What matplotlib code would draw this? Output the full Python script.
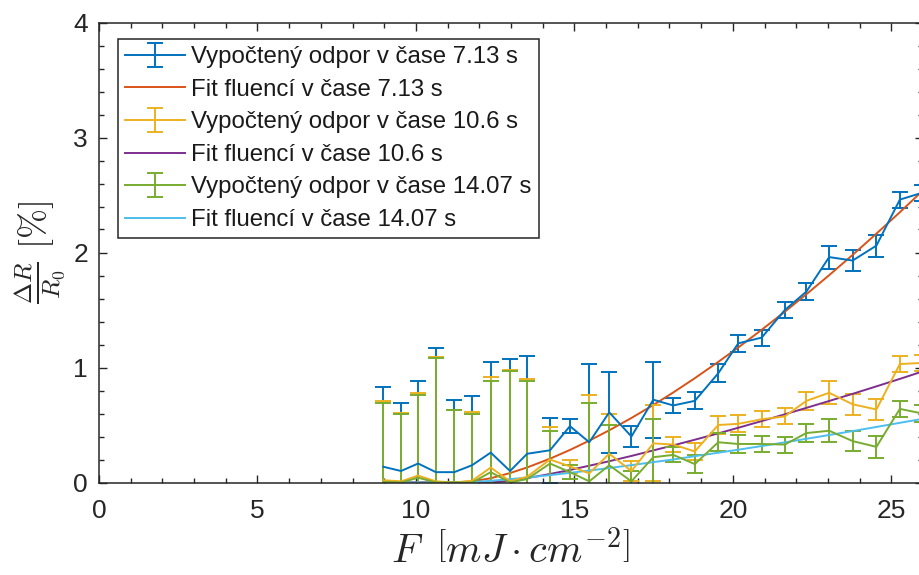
import matplotlib
matplotlib.use("Agg")
import matplotlib.pyplot as plt
from matplotlib.ticker import MultipleLocator

# Fluence of each measurement [mJ/cm^2]
fluence = [8.97, 9.53, 10.07, 10.63, 11.21, 11.77, 12.36, 12.97, 13.51, 14.23,
           14.86, 15.47, 16.10, 16.80, 17.49, 18.12, 18.80, 19.54, 20.17, 20.91,
           21.64, 22.32, 23.04, 23.78, 24.53, 25.27, 25.98]

# Computed relative resistance change dR/R0 [%] at the three times
res_713 = [0.137, 0.10, 0.165, 0.09, 0.09, 0.15, 0.26, 0.10, 0.25, 0.28,
           0.49, 0.35, 0.61, 0.40, 0.72, 0.67, 0.71, 0.95, 1.21, 1.26,
           1.50, 1.66, 1.96, 1.93, 2.06, 2.46, 2.52]
res_1060 = [0.02, 0.01, 0.06, 0.01, 0.0, 0.015, 0.13, 0.01, 0.05, 0.20,
            0.14, 0.08, 0.25, 0.10, 0.34, 0.33, 0.27, 0.50, 0.51, 0.55,
            0.575, 0.71, 0.78, 0.68, 0.635, 1.03, 1.04]
res_1407 = [0.005, 0.0, 0.042, 0.0, 0.0, 0.0, 0.09, 0.0, 0.03, 0.165,
            0.09, 0.01, 0.15, 0.01, 0.22, 0.24, 0.16, 0.35, 0.335, 0.335,
            0.33, 0.43, 0.45, 0.36, 0.31, 0.64, 0.60]

# Uncertainty of each point (same for all three times)
err = [0.69, 0.595, 0.715, 1.08, 0.63, 0.60, 0.79, 0.97, 0.85, 0.285,
       0.06, 0.68, 0.35, 0.09, 0.33, 0.065, 0.075, 0.077, 0.075, 0.07,
       0.07, 0.077, 0.10, 0.09, 0.095, 0.07, 0.07]

# Fluence fits evaluated at the measured fluences
fit_713 = [0, 0, 0, 0, 0, 0.01, 0.037, 0.082, 0.131, 0.207,
           0.283, 0.364, 0.454, 0.561, 0.674, 0.783, 0.907, 1.049, 1.174, 1.328,
           1.485, 1.637, 1.803, 1.979, 2.164, 2.35, 2.535]
fit_1060 = [0, 0, 0, 0, 0, 0, 0, 0.015, 0.038, 0.074,
            0.109, 0.146, 0.185, 0.231, 0.279, 0.323, 0.372, 0.427, 0.476, 0.534,
            0.593, 0.649, 0.709, 0.771, 0.836, 0.901, 0.965]
fit_1407 = [0, 0, 0, 0, 0, 0.003, 0.015, 0.029, 0.043, 0.064,
            0.084, 0.104, 0.126, 0.151, 0.177, 0.2, 0.229, 0.259, 0.285, 0.317,
            0.349, 0.38, 0.413, 0.447, 0.483, 0.519, 0.553]

times = ["7.13", "10.6", "14.07"]
meas_colors = ["#0072BD", "#EDB120", "#77AC30"]
fit_colors = ["#D95319", "#7E2F8E", "#4DBEEE"]

plt.rcParams["font.family"] = ["Liberation Sans", "DejaVu Sans"]
plt.rcParams["mathtext.fontset"] = "cm"

W, H = 919, 575
fig = plt.figure(figsize=(W / 100, H / 100), dpi=100)
ax = fig.add_axes([99 / W, (H - 482.5) / H, 824 / W, 460 / H])

lw = 1.4
handles = []
for res, fit, t, mc, fc in zip([res_713, res_1060, res_1407],
                               [fit_713, fit_1060, fit_1407],
                               times, meas_colors, fit_colors):
    eb = ax.errorbar(fluence, res, yerr=err, color=mc, lw=lw, elinewidth=lw,
                     capsize=5.5, capthick=lw,
                     label=f"Vypočtený odpor v čase {t} s")
    ln, = ax.plot(fluence, fit, color=fc, lw=lw,
                  label=f"Fit fluencí v čase {t} s")
    handles += [eb, ln]

ax.set_xlim(0, 26)
ax.set_ylim(0, 4)
ax.xaxis.set_major_locator(MultipleLocator(5))
ax.xaxis.set_minor_locator(MultipleLocator(1))
ax.yaxis.set_major_locator(MultipleLocator(1))
ax.yaxis.set_minor_locator(MultipleLocator(0.2))

dark = "#262626"
for s in ax.spines.values():
    s.set_color(dark)
    s.set_linewidth(1.1)
ax.tick_params(which="both", direction="in", top=True, right=True,
               color=dark, labelcolor=dark, width=1.0)
ax.tick_params(which="major", length=6, labelsize=19)
ax.tick_params(axis="x", which="major", pad=12)
ax.tick_params(axis="y", which="major", pad=8)
ax.tick_params(which="minor", length=3.5)

ax.set_xlabel(r"$F\;\;\left[mJ\cdot cm^{-2}\right]$", fontsize=29,
              color=dark, labelpad=5)
ax.set_ylabel(r"$\frac{\Delta R}{R_0}\ [\%]$", fontsize=26, color=dark,
              labelpad=4)

leg = ax.legend(handles=handles, labels=[h.get_label() for h in handles],
                loc="upper left", bbox_to_anchor=(118 / W, 1 - 39 / H),
                bbox_transform=fig.transFigure, borderaxespad=0,
                fontsize=17.3, handlelength=2.5, handletextpad=0.25,
                labelspacing=0.44, borderpad=0.3, fancybox=False,
                framealpha=1, edgecolor=dark)
leg.get_frame().set_linewidth(1.1)
for t in leg.get_texts():
    t.set_color("#1a1a1a")

fig.savefig("out.png", dpi=100)
